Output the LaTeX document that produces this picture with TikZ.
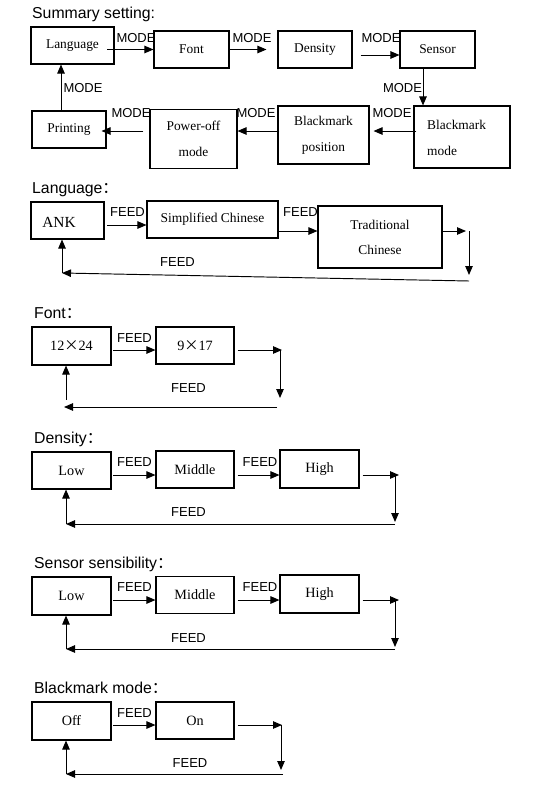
\documentclass[tikz,border=0pt]{standalone}
\usepackage{fontspec}
\setmainfont{Liberation Serif}
\setsansfont{Liberation Sans}
\newfontfamily\cjk{Noto Sans CJK SC}
\usetikzlibrary{arrows.meta,calc}
\newcommand\sumfont{\fontsize{13.4}{26}\selectfont\rmfamily}
\newcommand\lowfont{\fontsize{14.2}{17}\selectfont\rmfamily}
\newcommand\fcolon{{\cjk ：}}
\newcommand\xtimes{\makebox[1em]{\cjk ×}}
\tikzset{
  box/.style={draw, line width=1.1pt, inner sep=0pt, align=center},
  txt/.style={inner sep=0pt},
  lbl/.style={font=\fontsize{13}{15}\selectfont\sffamily, inner sep=0pt},
  ttl/.style={font=\fontsize{15.8}{18}\selectfont\sffamily, inner sep=0pt, anchor=base west},
  arr/.style={line width=0.95pt, -{Triangle[length=9pt,width=7.5pt]}},
}
\begin{document}
\begin{tikzpicture}[x=1pt,y=-1pt]
\useasboundingbox (0,0) rectangle (554,787);
% ---------------- Summary setting
\node[ttl] (t0) at (32,18) {Summary setting:};
\node[box, font=\sumfont, minimum width=83pt, minimum height=37pt] (lang) at (72.5,45.5) {Language};
\node[box, font=\sumfont, minimum width=75pt, minimum height=37pt] (font) at (191.5,49.5) {Font};
\node[box, font=\sumfont, minimum width=74pt, minimum height=37pt] (dens) at (315,49.5) {Density};
\node[box, font=\sumfont, minimum width=75pt, minimum height=37pt] (sens) at (437.5,49.5) {Sensor};
\node[box, minimum width=96pt, minimum height=62pt] (bmm) at (462,137) {};
\node[txt, font=\sumfont, align=left, anchor=west] (bmmt) at (427,138) {Blackmark\\mode};
\node[box, font=\sumfont, minimum width=91pt, minimum height=58pt] (bmp) at (323.5,135) {Blackmark\\position};
\node[box, font=\sumfont, minimum width=87pt, minimum height=59pt] (poff) at (193.5,139) {Power-off\\mode};
\node[box, font=\sumfont, minimum width=74pt, minimum height=37pt] (prnt) at (69,129.5) {Printing};
\draw[arr] ($(font.west)+(-46,0)$) -- (font.west);
\draw[arr] (font.east) -- ($(dens.west)+(-11,0)$);
\draw[arr] ($(dens.east)+(8,5.5)$) -- ($(sens.west)+(0,5.5)$);
\draw[arr] ($(sens.south)+(-14.5,0)$) -- ($(bmm.north)+(-39,0)$);
\draw[arr] ($(bmm.west)+(3,-6)$) -- ($(bmp.east)+(4,-4)$);
\draw[arr] ($(bmp.west)+(2,-4)$) -- ($(poff.east)+(0,-8)$);
\draw[arr] ($(poff.west)+(-6,-8)$) -- ($(prnt.east)+(-5,1.5)$);
\draw[arr] ($(prnt.north)+(-8,0)$) -- ($(lang.south)+(-11.5,0)$);
\node[lbl] (m1) at (136,38) {MODE};
\node[lbl] (m2) at (252,38) {MODE};
\node[lbl] (m3) at (381,38) {MODE};
\node[lbl] (m4) at (402.5,88) {MODE};
\node[lbl] (m5) at (392,113) {MODE};
\node[lbl] (m6) at (256,113) {MODE};
\node[lbl] (m7) at (131,113) {MODE};
\node[lbl] (m8) at (83,88) {MODE};
% ---------------- Language
\node[ttl] (t1) at (32,193) {Language\fcolon};
\node[box, minimum width=73pt, minimum height=37pt] (ank) at (67.5,220.5) {};
\node[txt, font=\fontsize{15.4}{18}\selectfont] (ankt) at (59,222) {ANK};
\node[box, font=\fontsize{13.5}{26}\selectfont, minimum width=131pt, minimum height=37pt] (sc) at (212.5,219.5) {Simplified Chinese};
\node[box, font=\fontsize{13.4}{25}\selectfont, minimum width=124pt, minimum height=62pt] (tc) at (380,237) {Traditional\\Chinese};
\coordinate (L1) at (466,231);
\coordinate (L2) at (469,231);
\coordinate (L3) at (469,275);
\coordinate (L4) at (469,281);
\coordinate (L5) at (62,273);
\draw[arr] ($(sc.west)+(-39,5.5)$) -- ($(sc.west)+(0,5.5)$);
\draw[arr] ($(sc.east)+(0,11.5)$) -- ($(tc.west)+(0,-6)$);
\draw[arr] ($(tc.east)+(0,-6)$) -- (L1);
\draw[arr] (L2) -- (L3);
\draw[arr] (L4) -- (L5);
\draw[arr] (L5) -- (ank.south -| L5);
\node[lbl] (fa1) at (127.5,212) {FEED};
\node[lbl] (fa2) at (300.5,212) {FEED};
\node[lbl] (fa3) at (177.5,262) {FEED};
% ---------------- Font
\node[ttl] (t2) at (34,318) {Font\fcolon};
\node[box, font=\lowfont, minimum width=79pt, minimum height=38pt] (f1) at (71.5,346) {12\xtimes24};
\node[box, font=\lowfont, minimum width=78pt, minimum height=37pt] (f2) at (195,345.5) {9\xtimes17};
\coordinate (F1) at (282,350);
\coordinate (F2) at (280,350);
\coordinate (F3) at (280,398);
\coordinate (F4) at (277,407);
\coordinate (F5) at (64,407);
\draw[arr] ($(f2.west)+(-42,4.5)$) -- ($(f2.west)+(0,4.5)$);
\draw[arr] ($(f2.east)+(3,4.5)$) -- (F1);
\draw[arr] (F2) -- (F3);
\draw[arr] (F4) -- (F5);
\draw[arr] ($(f1.south)+(-5.5,34)$) -- ($(f1.south)+(-5.5,0)$);
\node[lbl] (fb1) at (134.5,338) {FEED};
\node[lbl] (fb2) at (188.5,388) {FEED};
% ---------------- Density
\node[ttl] (t3) at (34,443) {Density\fcolon};
\node[box, font=\lowfont, minimum width=79pt, minimum height=37pt] (d1) at (71.5,470.5) {Low};
\node[box, font=\lowfont, minimum width=78pt, minimum height=37pt] (d2) at (195,469.5) {Middle};
\node[box, font=\lowfont, minimum width=79pt, minimum height=38pt] (d3) at (319.5,469) {High};
\coordinate (D1) at (399,475);
\coordinate (D2) at (395,475);
\coordinate (D3) at (395,522);
\coordinate (D4) at (395,524);
\coordinate (D5) at (66,524);
\draw[arr] ($(d2.west)+(-42,5.5)$) -- ($(d2.west)+(0,5.5)$);
\draw[arr] ($(d2.east)+(3,5.5)$) -- ($(d3.west)+(0,6)$);
\draw[arr] ($(d3.east)+(3,6)$) -- (D1);
\draw[arr] (D2) -- (D3);
\draw[arr] (D4) -- (D5);
\draw[arr] (D5) -- (d1.south -| D5);
\node[lbl] (fc1) at (134.5,462) {FEED};
\node[lbl] (fc2) at (260,462) {FEED};
\node[lbl] (fc3) at (188.5,512) {FEED};
% ---------------- Sensor sensibility
\node[ttl] (t4) at (34,568) {Sensor sensibility\fcolon};
\node[box, font=\lowfont, minimum width=79pt, minimum height=38pt] (s1) at (71.5,596) {Low};
\node[box, font=\lowfont, minimum width=78pt, minimum height=37pt] (s2) at (195,595) {Middle};
\node[box, font=\lowfont, minimum width=79pt, minimum height=38pt] (s3) at (319.5,594) {High};
\coordinate (S1) at (399,600);
\coordinate (S2) at (395,600);
\coordinate (S3) at (395,647);
\coordinate (S4) at (395,649);
\coordinate (S5) at (66,649);
\draw[arr] ($(s2.west)+(-42,5)$) -- ($(s2.west)+(0,5)$);
\draw[arr] ($(s2.east)+(3,5)$) -- ($(s3.west)+(0,6)$);
\draw[arr] ($(s3.east)+(3,6)$) -- (S1);
\draw[arr] (S2) -- (S3);
\draw[arr] (S4) -- (S5);
\draw[arr] (S5) -- (s1.south -| S5);
\node[lbl] (fd1) at (134.5,587) {FEED};
\node[lbl] (fd2) at (260,587) {FEED};
\node[lbl] (fd3) at (188.5,638) {FEED};
% ---------------- Blackmark mode
\node[ttl] (t5) at (34,693) {Blackmark mode\fcolon};
\node[box, font=\lowfont, minimum width=79pt, minimum height=38pt] (off) at (71.5,721) {Off};
\node[box, font=\lowfont, minimum width=78pt, minimum height=37pt] (on) at (195,720.5) {On};
\coordinate (B1) at (282,725);
\coordinate (B2) at (281,725);
\coordinate (B3) at (281,770);
\coordinate (B4) at (283,774);
\coordinate (B5) at (66,774);
\draw[arr] ($(on.west)+(-42,4.5)$) -- ($(on.west)+(0,4.5)$);
\draw[arr] ($(on.east)+(3,4.5)$) -- (B1);
\draw[arr] (B2) -- (B3);
\draw[arr] (B4) -- (B5);
\draw[arr] (B5) -- (off.south -| B5);
\node[lbl] (fe1) at (134.5,713) {FEED};
\node[lbl] (fe2) at (190,763) {FEED};
\end{tikzpicture}
\end{document}
